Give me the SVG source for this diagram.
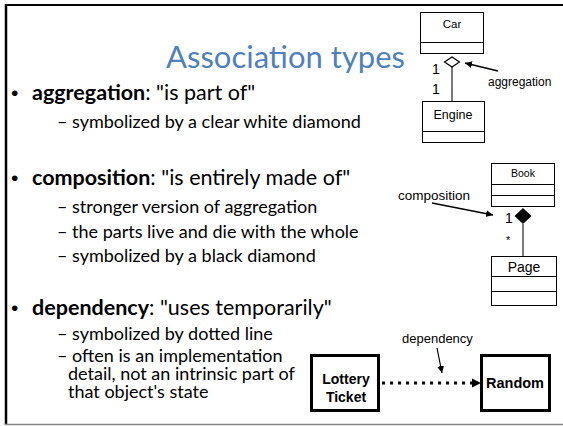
<svg xmlns="http://www.w3.org/2000/svg" width="563" height="426" viewBox="0 0 563 426">
<defs>
<style>
.body{font-family:Lato,"Open Sans",sans-serif;fill:#000}
.b1{font-size:21.5px}
.b2{font-size:18px}
.bul{font-family:"Liberation Sans",Arial,sans-serif;font-size:21px;fill:#000}
.title{font-family:Lato,"Open Sans",sans-serif;font-size:31px;fill:#4F81BD}
.uml{fill:#fff;stroke:#000;stroke-width:1}
.ut{font-family:"Liberation Sans",Arial,sans-serif;fill:#000;text-anchor:middle}
.lbl{font-family:"Liberation Sans",Arial,sans-serif;fill:#000}
.lnk{stroke:#333;stroke-width:1.3;fill:none}
.thick{fill:#fff;stroke:#000;stroke-width:3}
.bt{font-family:"Liberation Sans",Arial,sans-serif;font-weight:bold;font-size:14px;fill:#000;text-anchor:middle}
</style>
<marker id="ah" markerWidth="8" markerHeight="8" refX="7" refY="4" orient="auto" markerUnits="userSpaceOnUse">
<path d="M0,0.5 L7,4 L0,7.5 Z" fill="#000"/>
</marker>
</defs>
<rect width="563" height="426" fill="#fff"/>
<g id="frame">
<line x1="5" y1="5" x2="563" y2="5" stroke="#000" stroke-width="2"/>
<line x1="6" y1="4" x2="6" y2="425" stroke="#000" stroke-width="2.5"/>
<line x1="5" y1="424.5" x2="563" y2="424.5" stroke="#888" stroke-width="1.5"/>
</g>
<g id="title"><text class="title" x="166" y="68">Association types</text></g>
<g id="text">
<text class="bul" x="11" y="100">•</text>
<text class="body b1" x="32" y="100"><tspan font-weight="bold">aggregation</tspan>: "is part of"</text>
<text class="body b2" x="57" y="128">– symbolized by a clear white diamond</text>
<text class="bul" x="11" y="185">•</text>
<text class="body b1" x="32" y="185"><tspan font-weight="bold">composition</tspan>: "is entirely made of"</text>
<text class="body b2" x="57" y="213">– stronger version of aggregation</text>
<text class="body b2" x="57" y="238">– the parts live and die with the whole</text>
<text class="body b2" x="57" y="262">– symbolized by a black diamond</text>
<text class="bul" x="11" y="315">•</text>
<text class="body b1" x="32" y="315"><tspan font-weight="bold">dependency</tspan>: "uses temporarily"</text>
<text class="body b2" x="57" y="340">– symbolized by dotted line</text>
<text class="body b2" x="57" y="362">– often is an implementation</text>
<text class="body b2" x="68" y="380">detail, not an intrinsic part of</text>
<text class="body b2" x="68" y="398">that object's state</text>
</g>
<g id="connectors">
<line class="lnk" x1="452" y1="67" x2="452" y2="101.5"/>
<line x1="498" y1="71" x2="465" y2="63" stroke="#000" stroke-width="1.3" marker-end="url(#ah)"/>
<line class="lnk" x1="523" y1="224" x2="523" y2="256"/>
<line x1="432" y1="203" x2="493" y2="215" stroke="#000" stroke-width="1.3" marker-end="url(#ah)"/>
<line x1="382" y1="383" x2="473" y2="383" stroke="#000" stroke-width="3" stroke-dasharray="3,5"/>
<path d="M472,378.5 L481,383 L472,387.5 Z" fill="#000"/>
<line x1="437" y1="348" x2="442" y2="373" stroke="#000" stroke-width="1.2" marker-end="url(#ah)"/>
<path d="M452,57 L459.5,62 L452,67 L444.5,62 Z" fill="#fff" stroke="#000" stroke-width="1.2"/>
<path d="M523,208 L531.5,216 L523,224 L514.5,216 Z" fill="#000"/>
<text class="lbl" x="432" y="74" style="font-size:14px">1</text>
<text class="lbl" x="432" y="94" style="font-size:14px">1</text>
<text class="lbl" x="488" y="86" style="font-size:12px">aggregation</text>
<text class="lbl" x="398" y="200" style="font-size:13.5px">composition</text>
<text class="lbl" x="505" y="223" style="font-size:14px">1</text>
<text class="lbl" x="506" y="244" style="font-size:11px">*</text>
<text class="lbl" x="402" y="343" style="font-size:13px">dependency</text>
</g>
<g id="car">
<rect class="uml" x="420.5" y="12.5" width="63" height="41"/>
<line x1="420.5" y1="42.5" x2="483.5" y2="42.5" stroke="#000"/>
<text class="ut" x="452" y="28" font-size="11.5">Car</text>
</g>
<g id="engine">
<rect class="uml" x="422.5" y="101.5" width="62" height="41"/>
<line x1="422.5" y1="131.5" x2="484.5" y2="131.5" stroke="#000"/>
<text class="ut" x="453" y="119" font-size="12.5">Engine</text>
</g>
<g id="book">
<rect class="uml" x="491.5" y="163.5" width="63" height="43"/>
<line x1="491.5" y1="184.5" x2="554.5" y2="184.5" stroke="#000"/>
<line x1="491.5" y1="195.5" x2="554.5" y2="195.5" stroke="#000"/>
<text class="ut" x="523" y="177" font-size="10.5">Book</text>
</g>
<g id="page">
<rect class="uml" x="491.5" y="256.5" width="65" height="49"/>
<line x1="491.5" y1="276.5" x2="556.5" y2="276.5" stroke="#000"/>
<line x1="491.5" y1="291.5" x2="556.5" y2="291.5" stroke="#000"/>
<text class="ut" x="524" y="272" font-size="14">Page</text>
</g>
<g id="lottery">
<rect class="thick" x="311.5" y="355.5" width="67" height="55"/>
<text class="bt" x="346" y="384">Lottery</text>
<text class="bt" x="346" y="402">Ticket</text>
</g>
<g id="random">
<rect class="thick" x="481.5" y="355.5" width="68" height="55"/>
<text class="bt" x="515" y="388" style="font-size:14.5px">Random</text>
</g>
</svg>
